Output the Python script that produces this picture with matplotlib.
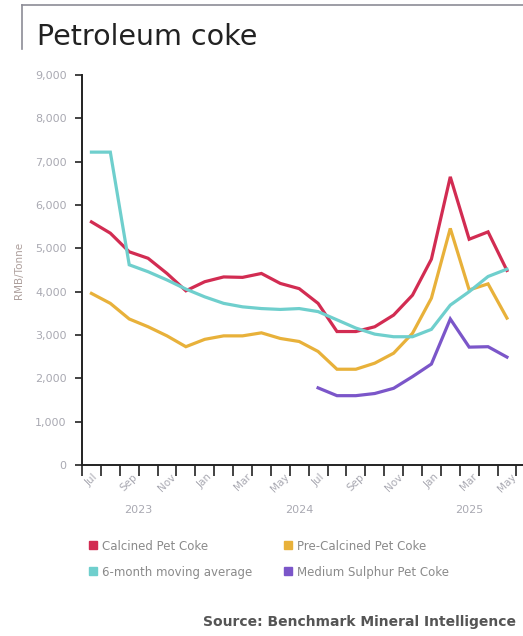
import numpy as np
import matplotlib
matplotlib.use("Agg")
import matplotlib.pyplot as plt
from matplotlib.lines import Line2D

# monthly data Jul 2023 - May 2025 (RMB/tonne)
months = ['Jul', 'Aug', 'Sep', 'Oct', 'Nov', 'Dec',
          'Jan', 'Feb', 'Mar', 'Apr', 'May', 'Jun',
          'Jul', 'Aug', 'Sep', 'Oct', 'Nov', 'Dec',
          'Jan', 'Feb', 'Mar', 'Apr', 'May']
years = ['2023', '2024', '2025']

calcined = [5610, 5350, 4920, 4770, 4420, 4020, 4230, 4340, 4330, 4420, 4190, 4070,
            3730, 3080, 3080, 3190, 3460, 3920, 4750, 6650, 5210, 5380, 4490]
pre_calcined = [3960, 3730, 3370, 3190, 2980, 2730, 2900, 2980, 2980, 3050, 2920, 2850,
                2620, 2210, 2210, 2350, 2580, 3040, 3850, 5460, 4040, 4180, 3390]
moving_avg = [7220, 7220, 4620, 4460, 4270, 4060, 3880, 3730, 3650, 3610, 3590, 3610,
              3540, 3350, 3160, 3020, 2960, 2960, 3130, 3690, 4000, 4350, 4520]
medium_sulphur = [np.nan] * 12 + [1780, 1600, 1600, 1650, 1770, 2040, 2330, 3370, 2720, 2730, 2490]

series = ['Calcined Pet Coke', 'Pre-Calcined Pet Coke', '6-month moving average', 'Medium Sulphur Pet Coke']
colors = ['#d22c52', '#e8b13a', '#6fcfcd', '#7b56c9']

fig = plt.figure(figsize=(5.23, 6.36), dpi=100)
ax = fig.add_axes([82/523, (636-465)/636, (523-82)/523, (465-75)/636])

x = np.arange(len(months))
for vals, c in zip([calcined, pre_calcined, moving_avg, medium_sulphur], colors):
    ax.plot(x, vals, color=c, lw=2.3, solid_joinstyle='miter')

ax.set_ylim(0, 9000)
ax.set_xlim(-0.5, 22.85)
ax.set_yticks(range(0, 9001, 1000))
ax.set_yticklabels([f'{v:,}' for v in range(0, 9001, 1000)], color='#a9a9b2', fontsize=8)
ax.set_ylabel('RMB/Tonne', color='#ad9f9c', fontsize=7.5, labelpad=8)

# ticks between categories, labels every second month
ax.set_xticks(np.arange(-0.5, 23, 1))
ax.set_xticklabels([])
ax.set_xticks(x[::2], minor=True)
ax.set_xticklabels(months[::2], minor=True, rotation=45, ha='center', color='#a9a9b2', fontsize=7.5)
ax.tick_params(axis='x', which='major', length=8, width=1.2, color='#222222')
ax.tick_params(axis='x', which='minor', length=0, pad=5)
ax.tick_params(axis='y', length=5, width=1.2, color='#222222', pad=6)

for xp, yr in zip([2.5, 11.0, 20.0], years):
    ax.text(xp, -0.116, yr, transform=ax.get_xaxis_transform(), ha='center', va='center',
            color='#a9a9b2', fontsize=8)

for s in ['top', 'right']:
    ax.spines[s].set_visible(False)
for s in ['left', 'bottom']:
    ax.spines[s].set_linewidth(1.4)
    ax.spines[s].set_color('#222222')

# legend
handles = [Line2D([], [], marker='s', ls='', color=c, markersize=6) for c in colors]
order = [0, 2, 1, 3]
fig.legend([handles[i] for i in order], [series[i] for i in order], ncol=2,
           loc='upper left', bbox_to_anchor=(76/523, 1 - 529/636), frameon=False,
           fontsize=8.5, labelcolor='#8a8a8a', handletextpad=0.3, columnspacing=2.5,
           labelspacing=1.1, handlelength=1.0)

# title and frame
fig.text(37/523, 1 - 37/636, 'Petroleum coke', fontsize=20.5, color='#222222', va='center')
fig.add_artist(Line2D([22/523, 1], [1 - 5/636, 1 - 5/636], color='#8c8c96', lw=1.2))
fig.add_artist(Line2D([22/523, 22/523], [1 - 5/636, 1 - 49/636], color='#8c8c96', lw=1.2))

fig.text(203/523, 1 - 622/636, 'Source: Benchmark Mineral Intelligence', fontsize=10,
         fontweight='bold', color='#555555', va='center')

fig.savefig('out.png', dpi=100)
